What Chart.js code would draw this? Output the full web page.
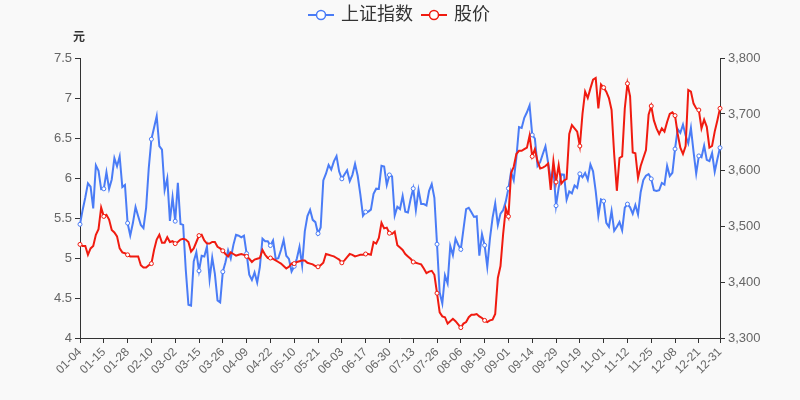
<!DOCTYPE html>
<html>
<head>
<meta charset="utf-8">
<script src="https://cdn.jsdelivr.net/npm/chart.js@4.4.1/dist/chart.umd.min.js"></script>
<style>
  html, body { margin: 0; padding: 0; background: #f9f9f9; }
  #wrap { width: 800px; height: 400px; }
</style>
</head>
<body>
<div id="wrap"><canvas id="chart"></canvas></div>
<script>
// trading days of the year (x categories)
const dates = [
  '01-04','01-05','01-06','01-07','01-08','01-11','01-12','01-13','01-14','01-15','01-18','01-19','01-20','01-21','01-22','01-25','01-26','01-27','01-28','01-29',
  '02-01','02-02','02-03','02-04','02-05','02-08','02-09','02-10','02-18','02-19','02-22','02-23','02-24','02-25','02-26',
  '03-01','03-02','03-03','03-04','03-05','03-08','03-09','03-10','03-11','03-12','03-15','03-16','03-17','03-18','03-19','03-22','03-23','03-24','03-25','03-26','03-29','03-30','03-31',
  '04-01','04-02','04-06','04-07','04-08','04-09','04-12','04-13','04-14','04-15','04-16','04-19','04-20','04-21','04-22','04-23','04-26','04-27','04-28','04-29','04-30',
  '05-06','05-07','05-10','05-11','05-12','05-13','05-14','05-17','05-18','05-19','05-20','05-21','05-24','05-25','05-26','05-27','05-28','05-31',
  '06-01','06-02','06-03','06-04','06-07','06-08','06-09','06-10','06-11','06-15','06-16','06-17','06-18','06-21','06-22','06-23','06-24','06-25','06-28','06-29','06-30',
  '07-01','07-02','07-05','07-06','07-07','07-08','07-09','07-12','07-13','07-14','07-15','07-16','07-19','07-20','07-21','07-22','07-23','07-26','07-27','07-28','07-29','07-30',
  '08-02','08-03','08-04','08-05','08-06','08-09','08-10','08-11','08-12','08-13','08-16','08-17','08-18','08-19','08-20','08-23','08-24','08-25','08-26','08-27','08-30','08-31',
  '09-01','09-02','09-03','09-06','09-07','09-08','09-09','09-10','09-13','09-14','09-15','09-16','09-17','09-22','09-23','09-24','09-27','09-28','09-29','09-30',
  '10-08','10-11','10-12','10-13','10-14','10-15','10-18','10-19','10-20','10-21','10-22','10-25','10-26','10-27','10-28','10-29',
  '11-01','11-02','11-03','11-04','11-05','11-08','11-09','11-10','11-11','11-12','11-15','11-16','11-17','11-18','11-19','11-22','11-23','11-24','11-25','11-26','11-29','11-30',
  '12-01','12-02','12-03','12-06','12-07','12-08','12-09','12-10','12-13','12-14','12-15','12-16','12-17','12-20','12-21','12-22','12-23','12-24','12-27','12-28','12-29','12-30','12-31'
];

// 上证指数 (right axis)
const indexValues = [
  3502.96,3528.68,3550.88,3576.20,3570.11,3531.50,3608.34,3598.65,3565.90,3566.38,3596.22,3566.26,3583.09,3621.26,3606.75,3624.24,3569.43,3573.34,3505.18,3483.07,
  3505.28,3533.68,3517.31,3501.86,3496.33,3532.44,3603.49,3655.09,3675.36,3696.17,3642.44,3636.36,3564.08,3585.05,3509.08,
  3551.40,3508.59,3576.90,3503.49,3501.99,3421.41,3359.29,3357.74,3436.83,3453.08,3419.95,3446.73,3445.55,3463.07,3404.66,3443.44,3414.62,3367.06,3363.59,3418.33,3435.31,3456.68,3441.91,
  3466.33,3484.39,3482.90,3479.63,3482.55,3450.68,3412.95,3403.55,3416.98,3398.99,3426.62,3477.55,3472.94,3472.93,3465.11,3474.17,3441.17,3442.61,3457.07,3474.90,3446.86,
  3441.28,3418.87,3427.99,3441.85,3462.75,3429.54,3490.38,3517.62,3529.01,3510.96,3506.94,3486.56,3497.28,3581.34,3593.36,3608.85,3600.78,3615.48,
  3624.71,3597.14,3584.22,3591.84,3599.54,3580.11,3591.40,3610.86,3589.75,3556.56,3518.33,3525.10,3525.60,3529.18,3557.41,3566.65,3566.22,3607.56,3606.37,3573.18,3591.20,
  3588.78,3518.76,3534.32,3530.26,3553.72,3525.50,3524.09,3547.84,3566.81,3528.50,3564.59,3539.30,3539.12,3536.79,3562.70,3574.73,3550.40,3467.44,3381.18,3361.59,3411.72,3397.36,
  3464.29,3447.99,3477.22,3466.56,3458.23,3494.63,3529.93,3532.62,3524.74,3516.30,3517.34,3446.98,3485.29,3465.55,3427.33,3477.13,3514.47,3540.38,3501.66,3522.16,3528.15,3543.94,
  3567.10,3597.04,3581.73,3621.86,3676.59,3675.19,3693.13,3703.11,3715.37,3662.60,3656.22,3607.09,3613.97,3628.49,3642.22,3613.07,3582.83,3602.22,3536.29,3568.17,
  3592.17,3591.71,3546.94,3561.76,3558.28,3572.37,3568.14,3593.15,3587.00,3594.78,3582.60,3609.86,3597.64,3562.31,3518.42,3547.34,
  3544.48,3505.63,3498.54,3526.87,3491.57,3498.63,3507.00,3492.46,3532.79,3539.10,3533.30,3521.79,3537.37,3520.71,3560.37,3582.08,3589.75,3592.70,3584.18,3564.09,3562.70,3563.89,
  3576.89,3573.84,3607.43,3589.31,3595.09,3637.57,3673.04,3666.35,3681.08,3661.53,3647.63,3675.02,3632.36,3593.60,3625.13,3622.62,3643.34,3618.05,3615.97,3630.11,3597.00,3619.19,3639.78
];

// 股价 (left axis, 元)
const priceValues = [
  5.17,5.15,5.15,5.04,5.12,5.15,5.29,5.36,5.63,5.52,
  5.54,5.48,5.35,5.32,5.27,5.12,5.07,5.06,5.04,5.02,
  5.02,5.02,5.02,4.91,4.88,4.88,4.91,4.93,5.10,5.23,
  5.29,5.19,5.19,5.26,5.20,5.21,5.18,5.20,5.23,5.24,
  5.23,5.20,5.08,5.12,5.20,5.28,5.29,5.22,5.18,5.18,
  5.20,5.20,5.14,5.12,5.09,5.05,5.02,5.07,5.05,5.03,
  5.04,5.05,5.04,5.02,4.99,4.95,4.98,4.99,5.00,5.10,
  5.04,5.00,5.00,4.99,4.97,4.95,4.93,4.90,4.87,4.89,
  4.93,4.93,4.95,4.96,4.97,4.97,4.94,4.93,4.92,4.90,
  4.89,4.91,4.94,5.05,5.04,5.03,5.02,5.00,4.98,4.94,
  4.97,5.01,5.05,5.04,5.02,5.03,5.04,5.04,5.05,5.05,
  5.04,5.20,5.18,5.25,5.44,5.37,5.38,5.31,5.30,5.33,
  5.16,5.13,5.10,5.05,5.02,4.99,4.95,4.94,4.93,4.92,
  4.87,4.81,4.83,4.84,4.79,4.56,4.32,4.27,4.26,4.18,
  4.21,4.24,4.21,4.17,4.13,4.18,4.20,4.26,4.29,4.29,
  4.30,4.27,4.25,4.22,4.20,4.22,4.23,4.30,4.75,4.90,
  5.30,5.62,5.52,6.06,6.14,6.30,6.34,6.34,6.36,6.38,
  6.53,6.27,6.36,6.21,6.12,6.13,6.15,6.18,5.85,6.21,
  5.95,6.16,5.93,5.97,5.99,6.55,6.66,6.62,6.58,6.40,
  6.80,7.08,7.00,7.12,7.23,7.25,6.87,7.17,7.13,7.08,
  7.00,6.85,6.29,5.84,6.25,6.27,6.87,7.18,7.02,6.32,
  6.31,6.00,6.15,6.25,6.35,6.79,6.90,6.72,6.62,6.55,
  6.62,6.58,6.70,6.80,6.82,6.78,6.55,6.38,6.30,6.40,
  7.10,7.08,6.93,6.87,6.85,6.62,6.73,6.64,6.38,6.40,
  6.58,6.72,6.87
];

const BLUE = '#4a7cf6';
const RED = '#f01b10';
const FONT = '"Liberation Sans", "Noto Sans CJK SC", sans-serif';
const LABEL_EVERY = 9;

function showLabel(i) {
  return i % LABEL_EVERY === 0 || i === dates.length - 1;
}

// line + hollow circle, like the legend icons in the picture
function legendIcon(color) {
  const c = document.createElement('canvas');
  c.width = 26;
  c.height = 14;
  const g = c.getContext('2d');
  g.strokeStyle = color;
  g.lineWidth = 2;
  g.beginPath();
  g.moveTo(0, 7);
  g.lineTo(26, 7);
  g.stroke();
  g.beginPath();
  g.arc(13, 7, 4.5, 0, Math.PI * 2);
  g.fillStyle = '#fff';
  g.fill();
  g.lineWidth = 1.5;
  g.stroke();
  return c;
}
const icons = [legendIcon(BLUE), legendIcon(RED)];

// push the plot area down below the legend
const legendGap = {
  id: 'legendGap',
  beforeInit(chart) {
    const fit = chart.legend.fit;
    chart.legend.fit = function () {
      fit.bind(chart.legend)();
      this.height += 24;
    };
  }
};

const background = {
  id: 'background',
  beforeDraw(chart) {
    const ctx = chart.ctx;
    ctx.save();
    ctx.fillStyle = '#f9f9f9';
    ctx.fillRect(0, 0, chart.width, chart.height);
    ctx.restore();
  }
};

// unit over the left axis
const unitLabel = {
  id: 'unitLabel',
  afterDraw(chart) {
    const ctx = chart.ctx;
    ctx.save();
    ctx.font = 'bold 12px ' + FONT;
    ctx.fillStyle = '#333';
    ctx.textAlign = 'center';
    ctx.textBaseline = 'middle';
    ctx.fillText('元', chart.chartArea.left - 1, chart.chartArea.top - 20);
    ctx.restore();
  }
};

const pointRadius = ctx => showLabel(ctx.dataIndex) ? 2 : 0;

new Chart(document.getElementById('chart'), {
  type: 'line',
  data: {
    labels: dates,
    datasets: [{
      label: '上证指数',
      data: indexValues,
      yAxisID: 'y1',
      borderColor: BLUE,
      backgroundColor: BLUE,
      borderWidth: 2,
      pointRadius: pointRadius,
      pointBackgroundColor: '#fff',
      pointBorderColor: BLUE,
      pointBorderWidth: 1,
      pointHoverRadius: 0,
      tension: 0,
      fill: false,
      order: 1
    }, {
      label: '股价',
      data: priceValues,
      yAxisID: 'y',
      borderColor: RED,
      backgroundColor: RED,
      borderWidth: 2,
      pointRadius: pointRadius,
      pointBackgroundColor: '#fff',
      pointBorderColor: RED,
      pointBorderWidth: 1,
      pointHoverRadius: 0,
      tension: 0,
      fill: false,
      order: 0
    }]
  },
  options: {
    responsive: true,
    maintainAspectRatio: false,
    animation: false,
    layout: { padding: { top: -4, left: 0, right: 0, bottom: 0 } },
    plugins: {
      tooltip: { enabled: false },
      legend: {
        position: 'top',
        labels: {
          usePointStyle: true,
          pointStyleWidth: 22,
          padding: 10,
          color: '#333',
          font: { family: FONT, size: 18 },
          generateLabels: chart => chart.data.datasets.map((ds, i) => ({
            text: ds.label,
            pointStyle: icons[i],
            fillStyle: ds.borderColor,
            strokeStyle: ds.borderColor,
            lineWidth: 0,
            fontColor: '#333',
            hidden: !chart.isDatasetVisible(i),
            datasetIndex: i
          }))
        }
      }
    },
    scales: {
      x: {
        type: 'category',
        offset: false,
        afterFit(scale) { scale.height = 62; },
        grid: { drawOnChartArea: false, drawTicks: true, tickLength: 5, color: '#333', offset: false },
        border: { display: true, color: '#333', width: 1 },
        ticks: {
          autoSkip: false,
          maxRotation: 45,
          minRotation: 45,
          padding: 2,
          color: '#666',
          font: { family: FONT, size: 12 },
          callback: (value, i) => showLabel(i) ? dates[i] : null
        }
      },
      y: {
        position: 'left',
        min: 4,
        max: 7.5,
        afterFit(scale) { scale.width = 80; },
        grid: { drawOnChartArea: false, drawTicks: true, tickLength: 5, color: '#333' },
        border: { display: true, color: '#333', width: 1 },
        ticks: {
          stepSize: 0.5,
          padding: 3,
          color: '#666',
          font: { family: FONT, size: 13 },
          callback: v => String(Math.round(v * 10) / 10)
        }
      },
      y1: {
        position: 'right',
        min: 3300,
        max: 3800,
        afterFit(scale) { scale.width = 80; },
        grid: { drawOnChartArea: false, drawTicks: true, tickLength: 5, color: '#333' },
        border: { display: true, color: '#333', width: 1 },
        ticks: {
          stepSize: 100,
          padding: 3,
          color: '#666',
          font: { family: FONT, size: 13 },
          callback: v => v.toLocaleString('en-US')
        }
      }
    }
  },
  plugins: [legendGap, background, unitLabel]
});
</script>
</body>
</html>
